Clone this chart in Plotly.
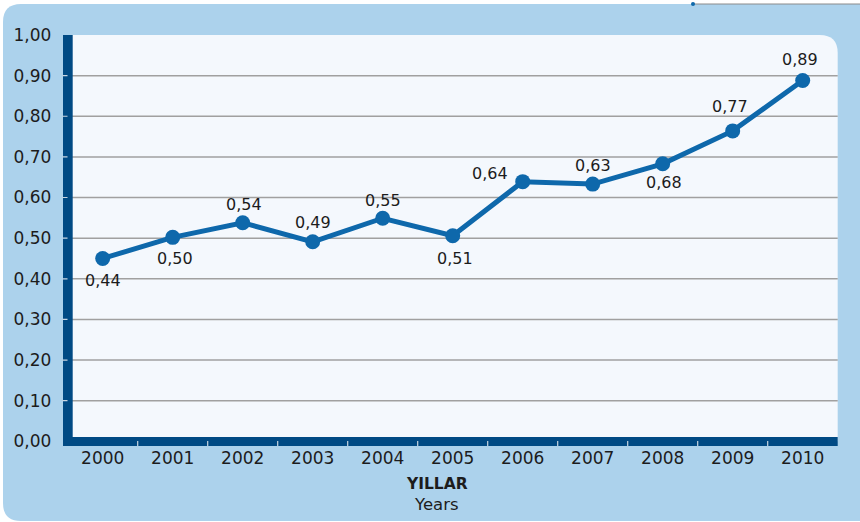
import plotly.graph_objects as go

# ---- data ----
years = ["2000", "2001", "2002", "2003", "2004", "2005", "2006", "2007", "2008", "2009", "2010"]
values = [0.450, 0.502, 0.538, 0.491, 0.549, 0.506, 0.639, 0.633, 0.683, 0.764, 0.888]
labels = ["0,44", "0,50", "0,54", "0,49", "0,55", "0,51", "0,64", "0,63", "0,68", "0,77", "0,89"]
ytick_vals = [0.0, 0.1, 0.2, 0.3, 0.4, 0.5, 0.6, 0.7, 0.8, 0.9, 1.0]
axis_title_tr = "YILLAR"
axis_title_en = "Years"

# ---- style ----
W, H = 860, 522
FONT = "DejaVu Sans"
TXT = "#1c1c1c"
PANEL = "#acd2ec"
PLOTBG = "#f4f8fd"
DARK = "#004a84"
LINE = "#0e68ab"
GRID = "#a0a0a0"

# label offsets in pixels (dx, dy up)
label_offsets = [(0, -22), (2, -21), (1, 18), (0, 19), (0, 18), (2, -23),
                 (-33, 8), (0, 19), (1, -19), (-3, 24), (-3, 21)]

PL, PR, PT, PB = 67.7, 837.7, 35.0, 441.3  # plot box in pixels


def px(x):
    return x / W


def py(y):
    return 1 - y / H


def rounded_path(x0, y0, x1, y1, r_tl=0, r_tr=0, r_br=0, r_bl=0):
    p = f"M {px(x0 + r_tl)},{py(y0)} L {px(x1 - r_tr)},{py(y0)} "
    p += f"Q {px(x1)},{py(y0)} {px(x1)},{py(y0 + r_tr)} "
    p += f"L {px(x1)},{py(y1 - r_br)} Q {px(x1)},{py(y1)} {px(x1 - r_br)},{py(y1)} "
    p += f"L {px(x0 + r_bl)},{py(y1)} Q {px(x0)},{py(y1)} {px(x0)},{py(y1 - r_bl)} "
    p += f"L {px(x0)},{py(y0 + r_tl)} Q {px(x0)},{py(y0)} {px(x0 + r_tl)},{py(y0)} Z"
    return p


fig = go.Figure()
fig.add_trace(go.Scatter(
    x=list(range(len(years))), y=values, mode="lines+markers",
    line=dict(color=LINE, width=5),
    marker=dict(color=LINE, size=15),
    hoverinfo="skip", showlegend=False,
))

shapes = []
# outer panel
shapes.append(dict(type="path", xref="paper", yref="paper", layer="below",
                   path=rounded_path(3, 4, 880, 521, r_tl=18, r_bl=18),
                   fillcolor=PANEL, line=dict(width=0)))
# plot area
shapes.append(dict(type="path", xref="paper", yref="paper", layer="below",
                   path=rounded_path(PL, PT, PR, PB, r_tr=18),
                   fillcolor=PLOTBG, line=dict(width=0)))
# gridlines
for v in ytick_vals[1:-1]:
    shapes.append(dict(type="line", xref="paper", yref="y", layer="below",
                       x0=px(PL), x1=px(PR), y0=v, y1=v,
                       line=dict(color=GRID, width=1.5)))
# axis bars
shapes.append(dict(type="rect", xref="paper", yref="paper", layer="above",
                   x0=px(63), x1=px(72.7), y0=py(35), y1=py(446),
                   fillcolor=DARK, line=dict(width=0)))
shapes.append(dict(type="rect", xref="paper", yref="paper", layer="above",
                   x0=px(63), x1=px(PR), y0=py(437), y1=py(446),
                   fillcolor=DARK, line=dict(width=0)))
# tick marks
for i in range(len(years) - 1):
    shapes.append(dict(type="line", xref="x", yref="paper", layer="above",
                       x0=i + 0.5, x1=i + 0.5, y0=py(441), y1=py(446),
                       line=dict(color="#c9d6e2", width=1.2)))
for v in ytick_vals[1:-1]:
    shapes.append(dict(type="line", xref="paper", yref="y", layer="above",
                       x0=px(62.5), x1=px(67.5), y0=v, y1=v,
                       line=dict(color="#c9d6e2", width=1.2)))
# decoration top-right
shapes.append(dict(type="line", xref="paper", yref="paper", layer="above",
                   x0=px(693), x1=px(860), y0=py(4), y1=py(4),
                   line=dict(color="#8a8a8a", width=1)))
shapes.append(dict(type="circle", xref="paper", yref="paper", layer="above",
                   x0=px(691), x1=px(695), y0=py(2), y1=py(6),
                   fillcolor=LINE, line=dict(width=0)))

annotations = []
for i, (v, lab, (dx, dy)) in enumerate(zip(values, labels, label_offsets)):
    annotations.append(dict(x=i, y=v, xref="x", yref="y", text=lab, showarrow=False,
                            xshift=dx, yshift=dy, font=dict(family=FONT, size=16, color=TXT)))
annotations.append(dict(x=px(437), y=py(484), xref="paper", yref="paper",
                        xanchor="center", yanchor="middle",
                        text=f"<b>{axis_title_tr}</b>", showarrow=False,
                        font=dict(family=FONT, size=15.5, color=TXT)))
annotations.append(dict(x=px(437), y=py(504), xref="paper", yref="paper",
                        xanchor="center", yanchor="middle",
                        text=axis_title_en, showarrow=False,
                        font=dict(family=FONT, size=16.5, color=TXT)))

fig.update_layout(
    width=W, height=H, autosize=False,
    margin=dict(l=0, r=0, t=0, b=0, pad=0, autoexpand=False),
    paper_bgcolor="white", plot_bgcolor="rgba(0,0,0,0)",
    separators=",.",
    font=dict(family=FONT, size=16, color=TXT),
    shapes=shapes, annotations=annotations,
    xaxis=dict(domain=[px(PL), px(PR)], range=[-0.5, 10.5],
               tickmode="array", tickvals=list(range(len(years))), ticktext=years,
               showgrid=False, zeroline=False, showline=False,
               ticks="outside", ticklen=1, tickcolor="rgba(0,0,0,0)",
               tickfont=dict(family=FONT, size=17, color=TXT)),
    yaxis=dict(domain=[py(PB), py(PT)], range=[0, 1], tickvals=ytick_vals,
               tickformat=".2f", showgrid=False, zeroline=False, showline=False,
               ticks="outside", ticklen=12, tickcolor="rgba(0,0,0,0)",
               tickfont=dict(family=FONT, size=17, color=TXT)),
)

fig.write_html("out.html", config={"displayModeBar": False},
               post_script="document.body.style.margin='0';")
